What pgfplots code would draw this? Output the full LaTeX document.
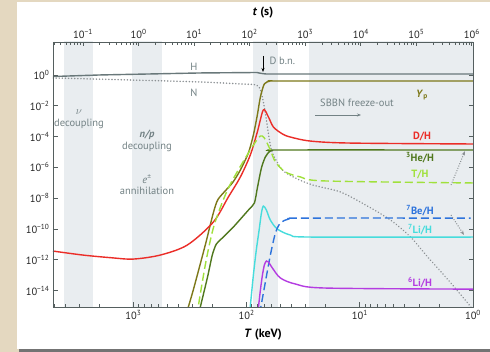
\documentclass[border=0pt]{standalone}
\usepackage{pgfplots}
\pgfplotsset{compat=1.18}
\usepackage{fontspec}
\setmainfont{PT Sans}
\usetikzlibrary{arrows.meta,backgrounds}

\definecolor{beige}{RGB}{228,216,192}
\definecolor{band}{RGB}{233,237,240}
\definecolor{axgray}{RGB}{85,95,95}
\definecolor{hgray}{RGB}{105,120,122}
\definecolor{ngray}{RGB}{140,145,148}
\definecolor{txtgray}{RGB}{115,130,133}
\definecolor{cYp}{RGB}{125,120,25}
\definecolor{cD}{RGB}{235,45,40}
\definecolor{cHe}{RGB}{80,120,30}
\definecolor{cT}{RGB}{160,225,60}
\definecolor{cBe}{RGB}{45,115,220}
\definecolor{cLi}{RGB}{70,220,220}
\definecolor{cLisix}{RGB}{180,60,225}

\begin{document}
\begin{tikzpicture}
% data: x = -log10(T/keV) (temperature falls to the right), y = log10(abundance)
\begin{axis}[
  name=main,
  at={(53pt,45pt)}, anchor=south west, scale only axis,
  width=420pt, height=265pt,
  xmin=-3.71, xmax=0,
  ymin=-15.06, ymax=2.14,
  xtick={-3,-2,-1,0},
  xticklabels={10\textsuperscript{3},10\textsuperscript{2},10\textsuperscript{1},10\textsuperscript{0}},
  minor xtick={-0.301,-0.477,-0.602,-0.699,-0.778,-0.845,-0.903,-0.954,
               -1.301,-1.477,-1.602,-1.699,-1.778,-1.845,-1.903,-1.954,
               -2.301,-2.477,-2.602,-2.699,-2.778,-2.845,-2.903,-2.954,
               -3.301,-3.477,-3.602,-3.699},
  xtick pos=left,
  ytick={-14,-12,-10,-8,-6,-4,-2,0},
  yticklabels={10\textsuperscript{\textminus14},10\textsuperscript{\textminus12},10\textsuperscript{\textminus10},10\textsuperscript{\textminus8},10\textsuperscript{\textminus6},10\textsuperscript{\textminus4},10\textsuperscript{\textminus2},10\textsuperscript{0}},
  yticklabel pos=left,
  tick align=inside,
  axis line style={axgray, line width=0.9pt},
  every tick/.style={axgray, line width=0.8pt},
  major tick length=4.5pt, minor tick length=2.8pt,
  ticklabel style={font=\fontsize{10.5}{12}\selectfont, text=black!85},
  axis on top,
]
\fill[band] (axis cs:-3.613,-16) rectangle (axis cs:-3.356,3);
\fill[band] (axis cs:-3.011,-16) rectangle (axis cs:-2.745,3);
\fill[band] (axis cs:-1.940,-16) rectangle (axis cs:-1.719,3);
\fill[band] (axis cs:-1.453,-16) rectangle (axis cs:0,3);

% H
\addplot[hgray, line width=1.4pt] coordinates {
(-3.71,-0.10)(-3.294,0.0)(-2.852,0.065)(-2.409,0.13)(-1.91,0.16)(-1.87,0.10)(-1.83,0.065)(0,0.065)};
% N
\addplot[ngray, line width=1.6pt, dash pattern=on 0.1pt off 3pt, line cap=round, smooth] coordinates {
(-3.71,-0.195)(-3.029,-0.325)(-2.409,-0.455)(-2.055,-0.584)(-1.914,-0.649)(-1.878,-0.974)(-1.852,-1.753)(-1.825,-2.922)(-1.798,-4.221)(-1.772,-5.06)(-1.683,-6.17)(-1.568,-6.69)(-1.418,-7.14)(-1.170,-7.60)(-0.949,-8.44)(-0.728,-9.42)(-0.551,-10.52)(-0.400,-11.82)(-0.241,-13.12)(-0.046,-14.81)(0,-15.26)};
% Yp
\addplot[cYp, line width=1.4pt, smooth, tension=0.4] coordinates {
(-2.535,-15.56)(-2.471,-13.96)(-2.365,-11.04)(-2.294,-8.96)(-2.250,-8.05)(-2.126,-7.01)(-2.055,-6.17)(-1.984,-5.06)(-1.940,-3.90)(-1.905,-2.60)(-1.878,-1.43)(-1.843,-0.58)(-1.790,-0.39)(-1.7,-0.39)(0,-0.39)};
% D/H
\addplot[cD, line width=1.4pt, smooth, tension=0.5] coordinates {
(-3.71,-11.43)(-3.445,-11.69)(-3.2,-11.86)(-3.002,-11.95)(-2.763,-11.69)(-2.524,-11.04)(-2.294,-9.55)(-2.161,-7.92)(-2.055,-6.62)(-1.967,-5.19)(-1.905,-3.70)(-1.852,-2.27)(-1.807,-2.73)(-1.763,-3.38)(-1.683,-3.83)(-1.613,-4.03)(-1.436,-4.29)(-1.082,-4.42)(0,-4.48)};
% 3He/H
\addplot[cHe, line width=1.4pt, smooth, tension=0.4] coordinates {
(-2.43,-15.7)(-2.347,-13.18)(-2.303,-11.69)(-2.267,-10.97)(-2.214,-10.58)(-2.117,-9.87)(-1.984,-8.77)(-1.931,-8.31)(-1.905,-7.34)(-1.869,-6.04)(-1.834,-5.32)(-1.790,-4.94)(-1.701,-4.87)(0,-4.87)};
% T/H
\addplot[cT, line width=1.4pt, dash pattern=on 8pt off 4pt, smooth, tension=0.5] coordinates {
(-2.441,-15.66)(-2.365,-12.34)(-2.303,-10.19)(-2.250,-8.96)(-2.161,-7.34)(-2.037,-5.71)(-1.922,-4.35)(-1.878,-3.96)(-1.843,-4.09)(-1.790,-4.87)(-1.745,-5.65)(-1.657,-6.30)(-1.524,-6.62)(-1.303,-6.88)(0,-7.01)};
% 7Li/H
\addplot[cLi, line width=1.4pt, smooth, tension=0.5] coordinates {
(-1.975,-15.6)(-1.940,-12.99)(-1.914,-11.36)(-1.887,-9.94)(-1.869,-8.96)(-1.852,-8.51)(-1.825,-8.77)(-1.790,-9.42)(-1.728,-10.0)(-1.613,-10.39)(-1.436,-10.52)(0,-10.52)};
% 7Be/H
\addplot[cBe, line width=1.4pt, dash pattern=on 8pt off 4pt, smooth, tension=0.5] coordinates {
(-1.885,-15.5)(-1.834,-13.44)(-1.790,-11.69)(-1.745,-10.26)(-1.701,-9.61)(-1.630,-9.35)(-1.524,-9.29)(-0.02,-9.29)};
% 6Li/H
\addplot[cLisix, line width=1.4pt, smooth, tension=0.5] coordinates {
(-1.90,-15.4)(-1.878,-13.96)(-1.860,-12.99)(-1.843,-12.34)(-1.825,-12.08)(-1.807,-12.14)(-1.772,-12.53)(-1.701,-13.18)(-1.568,-13.57)(-1.303,-13.83)(0,-13.90)};
\end{axis}

% top time axis: x = log10(t/s)
\begin{axis}[
  at={(53pt,45pt)}, anchor=south west, scale only axis,
  width=420pt, height=265pt,
  xmin=-1.54, xmax=6.02, ymin=0, ymax=1,
  axis x line*=top, axis y line=none,
  xtick align=inside,
  xtick={-1,0,1,2,3,4,5,6},
  xticklabels={10\textsuperscript{\textminus1},10\textsuperscript{0},10\textsuperscript{1},10\textsuperscript{2},10\textsuperscript{3},10\textsuperscript{4},10\textsuperscript{5},10\textsuperscript{6}},
  minor xtick={-1.523,-1.398,-1.301,-1.222,-1.155,-1.097,-1.046,
    -0.699,-0.523,-0.398,-0.301,-0.222,-0.155,-0.097,-0.046,
    0.301,0.477,0.602,0.699,0.778,0.845,0.903,0.954,
    1.301,1.477,1.602,1.699,1.778,1.845,1.903,1.954,
    2.301,2.477,2.602,2.699,2.778,2.845,2.903,2.954,
    3.301,3.477,3.602,3.699,3.778,3.845,3.903,3.954,
    4.301,4.477,4.602,4.699,4.778,4.845,4.903,4.954,
    5.301,5.477,5.602,5.699,5.778,5.845,5.903,5.954},
  axis line style={axgray, line width=0.9pt},
  every tick/.style={axgray, line width=0.8pt},
  major tick length=4.5pt, minor tick length=2.8pt,
  ticklabel style={font=\fontsize{10.5}{12}\selectfont, text=black!85},
]
\addplot[draw=none] coordinates {(0,0.5)};
\end{axis}

\begin{scope}[x=1pt,y=1pt]
\begin{pgfonlayer}{background}
\fill[beige] (0,0) rectangle (490,352);
\fill[black!55] (19,0) rectangle (490,348);
\fill[white] (17,3) rectangle (490,350);
\end{pgfonlayer}
\begin{scope}[font=\fontsize{10.5}{12}\selectfont]
\node[txtgray] at (194,285) {H};
\node[txtgray] at (194,259) {N};
\node[txtgray] at (79,240) {$\nu$};
\node[txtgray] at (79,228) {decoupling};
\node[txtgray] at (147,217) {\textbf{\textit{n/p}}};
\node[txtgray] at (147,205) {decoupling};
\node[txtgray] at (147,173) {\textit{e}\textsuperscript{±}};
\node[txtgray] at (147,161) {annihilation};
\node[txtgray, anchor=west] at (266,291) {D b.n.};
\draw[black, line width=0.7pt, -{Stealth[length=4pt]}] (263,296) -- (263,280);
\node[txtgray] at (357,249) {SBBN freeze-out};
\draw[txtgray, line width=0.8pt, -{Stealth[length=4pt]}] (315,237) -- (361,237);
\node[cYp] at (422,257) {\textbf{\textit{Y}\textsubscript{p}}};
\node[cD] at (422,215) {\textbf{D/H}};
\node[cHe] at (420,194) {\textbf{\textsuperscript{3}He/H}};
\node[cT] at (420,177) {\textbf{T/H}};
\node[cBe] at (420,141) {\textbf{\textsuperscript{7}Be/H}};
\node[cLi] at (420,122) {\textbf{\textsuperscript{7}Li/H}};
\node[cLisix] at (420,69) {\textbf{\textsuperscript{6}Li/H}};
\draw[ngray, line width=1pt, dash pattern=on 1pt off 1.5pt, -{Stealth[length=4.5pt]}] (451,167) -- (465,201);
\draw[ngray, line width=1pt, dash pattern=on 1pt off 1.5pt, -{Stealth[length=4.5pt]}] (451,137) -- (464,117);
\end{scope}
\node[font=\fontsize{12}{14}\selectfont] at (263,17) {\textbf{\textit{T} (keV)}};
\node[font=\fontsize{12}{14}\selectfont] at (263,339) {\textbf{\textit{t} (s)}};
\pgfresetboundingbox
\useasboundingbox (0,0) rectangle (490,352);
\end{scope}
\end{tikzpicture}
\end{document}
